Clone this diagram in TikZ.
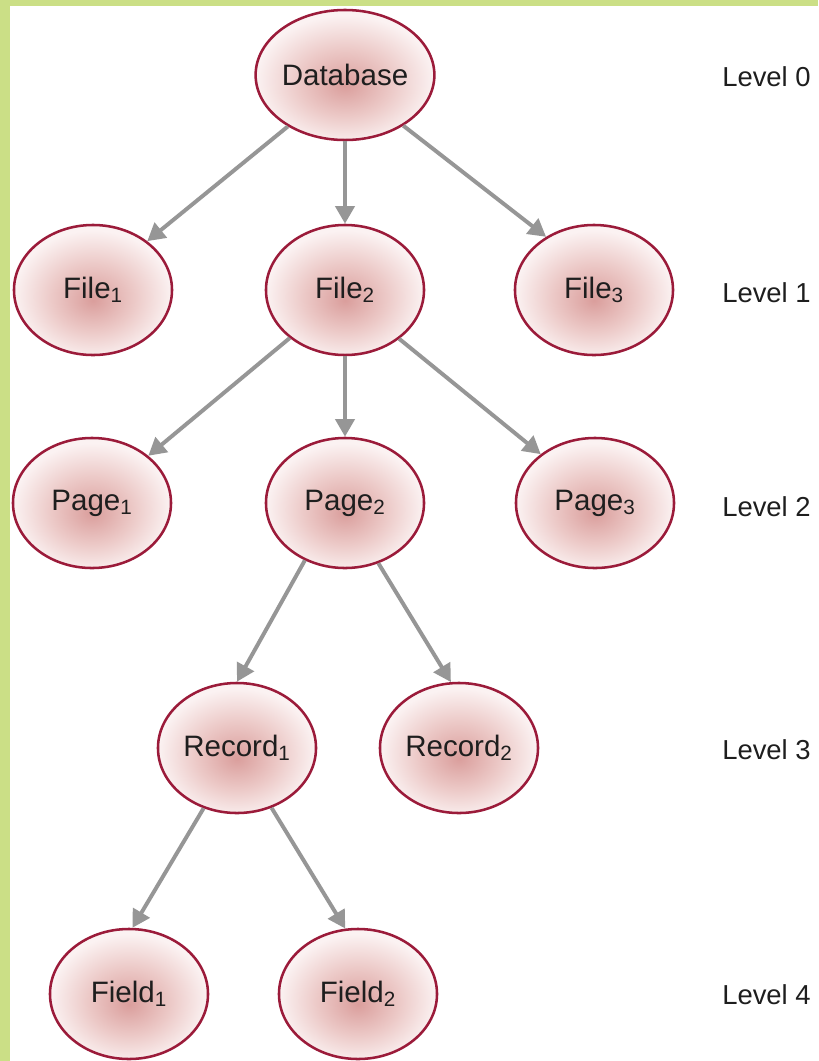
\documentclass[tikz,border=0pt]{standalone}
\usepackage{fontspec}
\setmainfont{Liberation Sans}
\usetikzlibrary{arrows.meta,shapes.geometric}
\definecolor{frameGreen}{RGB}{203,223,134}
\definecolor{nodeRim}{RGB}{155,27,58}
\definecolor{nodeCore}{RGB}{218,158,156}
\definecolor{nodeMid}{RGB}{236,201,199}
\definecolor{nodeEdge}{RGB}{251,242,242}
\definecolor{arrowGrey}{RGB}{150,150,150}
\definecolor{labelInk}{RGB}{30,30,30}
\pgfdeclareradialshading{node glow}{\pgfpoint{0bp}{-4bp}}{color(0bp)=(nodeCore); color(13bp)=(nodeMid); color(25bp)=(nodeEdge); color(50bp)=(nodeEdge)}
\begin{document}
\begin{tikzpicture}[
    x=0.025cm, y=-0.025cm,
    every node/.style={align=center, text=labelInk},
    tree node/.style={ellipse, draw=nodeRim, line width=1.8pt, shading=node glow,
        minimum width=3.95cm, minimum height=3.25cm, inner sep=0pt,
        font=\fontsize{21}{25}\selectfont},
    tree arrow/.style={draw=arrowGrey, line width=2.8pt, -{Triangle[length=12.5pt,width=13.5pt]}},
    level label/.style={anchor=west, inner sep=0pt, font=\fontsize{19.5}{23}\selectfont},
    ]
\useasboundingbox (0,0) rectangle (818,1061);
\fill[frameGreen] (0,0) rectangle (10,1061);
\fill[frameGreen] (0,0) rectangle (818,6);
\node[tree node] (db) at (345,75) {Database};
\node[tree node] (file1) at (93,290) {File\textsubscript{1}};
\node[tree node] (file2) at (345,290) {File\textsubscript{2}};
\node[tree node] (file3) at (594,290) {File\textsubscript{3}};
\node[tree node] (page1) at (92,503) {Page\textsubscript{1}};
\node[tree node] (page2) at (345,503) {Page\textsubscript{2}};
\node[tree node] (page3) at (595,503) {Page\textsubscript{3}};
\node[tree node] (rec1) at (237,748) {Record\textsubscript{1}};
\node[tree node] (rec2) at (459,748) {Record\textsubscript{2}};
\node[tree node] (field1) at (129,994) {Field\textsubscript{1}};
\node[tree node] (field2) at (358,994) {Field\textsubscript{2}};
\node[level label] (lv0) at (722,77) {Level 0};
\node[level label] (lv1) at (722,293) {Level 1};
\node[level label] (lv2) at (722,507) {Level 2};
\node[level label] (lv3) at (722,750) {Level 3};
\node[level label] (lv4) at (722,995) {Level 4};
\draw[tree arrow] (db.-138) -- (file1.42);
\draw[tree arrow] (db.south) -- (file2.north);
\draw[tree arrow] (db.-41) -- (file3.132);
\draw[tree arrow] (file2.-139) -- (page1.40);
\draw[tree arrow] (file2.south) -- (page2.north);
\draw[tree arrow] (file2.-42) -- (page3.138);
\draw[tree arrow] (page2.-125) -- (rec1.north);
\draw[tree arrow] (page2.-61) -- (rec2.97);
\draw[tree arrow] (rec1.-119) -- (field1.87);
\draw[tree arrow] (rec1.-60) -- (field2.101);
\end{tikzpicture}
\end{document}
